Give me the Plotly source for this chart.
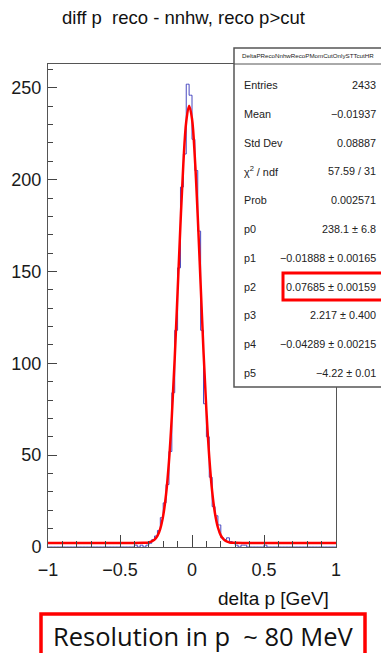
import numpy as np
import plotly.graph_objects as go

# ---------------- data ----------------
# histogram: centres of the non-empty bins (bin width 0.02 GeV) and their contents
bin_centers = [-0.39, -0.35, -0.31, -0.29, -0.27, -0.25, -0.23, -0.21, -0.19, -0.17,
               -0.15, -0.13, -0.11, -0.09, -0.07, -0.05, -0.03, -0.01, 0.01, 0.03,
               0.05, 0.07, 0.09, 0.11, 0.13, 0.15, 0.17, 0.19, 0.21, 0.23,
               0.25, 0.27, 0.29, 0.31, 0.35, 0.37, 0.51]
bin_counts = [1, 1, 1, 2, 4, 6, 9, 16, 24, 34,
              52, 84, 118, 152, 196, 214, 252, 246, 222, 205,
              172, 118, 78, 60, 38, 22, 17, 12, 5, 4,
              5, 3, 2, 1, 1, 1, 1]

# fit curve (red)
fit_x = [-1.0, -0.6, -0.4, -0.34, -0.30, -0.28, -0.26, -0.24, -0.22, -0.20, -0.18, -0.16,
         -0.14, -0.12, -0.10, -0.08, -0.06, -0.04, -0.02, 0.0, 0.02, 0.04, 0.06,
         0.08, 0.10, 0.12, 0.14, 0.16, 0.18, 0.20, 0.22, 0.24, 0.26, 0.30, 0.4, 0.6, 1.0]
fit_y = [2.2, 2.2, 2.2, 2.3, 2.5, 3.0, 4.0, 6.0, 10.0, 17.1, 28.8, 46.5,
         71.2, 102.7, 138.9, 176.0, 208.8, 231.6, 240.3, 233.2, 211.7, 179.8, 142.9,
         106.2, 74.3, 48.8, 30.3, 18.1, 10.6, 6.3, 4.1, 3.0, 2.5, 2.3, 2.2, 2.2, 2.2]

x_ticks = [-1, -0.5, 0, 0.5, 1]
y_ticks = [0, 50, 100, 150, 200, 250]

title_text = "diff p\u00a0\u00a0reco - nnhw, reco p>cut"
x_title = "delta p [GeV]"
stats_name = "DeltaPRecoNnhwRecoPMomCutOnlySTTcutHR"
stats_labels = ["Entries", "Mean", "Std Dev", "\u03c7<sup>2</sup> / ndf", "Prob",
                "p0", "p1", "p2", "p3", "p4", "p5"]
stats_values = ["2433", "\u22120.01937", "0.08887", "57.59 / 31", "0.002571",
                "238.1 \u00b1 6.8", "\u22120.01888 \u00b1 0.00165", "0.07685 \u00b1 0.00159",
                "2.217 \u00b1 0.400", "\u22120.04289 \u00b1 0.00215", "\u22124.22 \u00b1 0.01"]
note_text = "Resolution in p\u00a0\u00a0~ 80 MeV"

# ---------------- layout geometry ----------------
W, H = 381, 653
L, R, T, B = 48, 336, 64, 547


def px(x):
    return (x - L) / (R - L)


def py(y):
    return (B - y) / (B - T)


# full histogram arrays
all_centers = np.round(np.arange(-0.99, 1.0, 0.02), 2)
counts = np.zeros_like(all_centers)
for c, n in zip(bin_centers, bin_counts):
    counts[np.argmin(np.abs(all_centers - c))] = n
hx = np.concatenate([[-1.0], all_centers, [1.0]])
hy = np.concatenate([[counts[0]], counts, [counts[-1]]])

fig = go.Figure()
fig.add_trace(go.Scatter(x=hx, y=hy, mode="lines", line=dict(shape="hvh", color="#4848c0", width=1),
                         showlegend=False, hoverinfo="skip"))
fig.add_trace(go.Scatter(x=fit_x, y=fit_y, mode="lines", line=dict(shape="spline", color="#ff0000", width=2.5),
                         showlegend=False, hoverinfo="skip"))

axis_font = dict(family="Liberation Sans, Arial, sans-serif", size=18, color="#1a1a1a")
fig.update_xaxes(range=[-1, 1], tickvals=x_ticks, ticks="inside", ticklen=12, tickcolor="#444",
                 tickwidth=1, showline=True, linecolor="#555", linewidth=1, mirror=True,
                 showgrid=False, zeroline=False, tickfont=axis_font, ticklabelstandoff=6,
                 minor=dict(dtick=0.1, ticks="inside", ticklen=6, tickcolor="#444", showgrid=False))
fig.update_yaxes(range=[0, 263], tickvals=y_ticks, ticks="inside", ticklen=9, tickcolor="#444",
                 tickwidth=1, showline=True, linecolor="#555", linewidth=1, mirror=True,
                 showgrid=False, zeroline=False, tickfont=axis_font, ticklabelstandoff=2,
                 minor=dict(dtick=10, ticks="inside", ticklen=5, tickcolor="#444", showgrid=False))

shapes = []
annotations = []

# stats box
box_l, box_t, box_b = 234, 48, 387
box_r = 390
shapes.append(dict(type="rect", xref="paper", yref="paper", x0=px(box_l), x1=px(box_r),
                   y0=py(box_b), y1=py(box_t), line=dict(color="#555", width=1.5),
                   fillcolor="white", layer="above"))
shapes.append(dict(type="line", xref="paper", yref="paper", x0=px(box_l), x1=px(box_r),
                   y0=py(64), y1=py(64), line=dict(color="#555", width=1), layer="above"))
annotations.append(dict(xref="paper", yref="paper", x=px(308), y=py(56), text=stats_name,
                        showarrow=False, xanchor="center", yanchor="middle",
                        font=dict(family="Liberation Sans, Arial", size=6.2, color="#222")))
row_y0, row_dy = 85, 28.8
stat_font = dict(family="Liberation Sans, Arial", size=10.8, color="#222")
for i, (lab, val) in enumerate(zip(stats_labels, stats_values)):
    yy = row_y0 + i * row_dy
    annotations.append(dict(xref="paper", yref="paper", x=px(242), y=py(yy), text=lab,
                            showarrow=False, xanchor="left", yanchor="middle", font=stat_font))
    annotations.append(dict(xref="paper", yref="paper", x=px(378), y=py(yy), text=val,
                            showarrow=False, xanchor="right", yanchor="middle", font=stat_font))

# red highlight on p2
p2y = row_y0 + 7 * row_dy
shapes.append(dict(type="rect", xref="paper", yref="paper", x0=px(283), x1=px(386),
                   y0=py(p2y + 13.5), y1=py(p2y - 13.5), line=dict(color="#ff0000", width=3),
                   fillcolor="rgba(0,0,0,0)", layer="above"))

# title
annotations.append(dict(xref="paper", yref="paper", x=px(183), y=py(18), text=title_text,
                        showarrow=False, xanchor="center", yanchor="middle",
                        font=dict(family="Liberation Sans, Arial", size=18.5, color="#111")))
# x axis title
annotations.append(dict(xref="paper", yref="paper", x=px(331), y=py(598), text=x_title,
                        showarrow=False, xanchor="right", yanchor="middle",
                        font=dict(family="Liberation Sans, Arial", size=19, color="#111")))
# bottom note box
shapes.append(dict(type="rect", xref="paper", yref="paper", x0=px(41), x1=px(365),
                   y0=py(656), y1=py(614), line=dict(color="#ff0000", width=3.5),
                   fillcolor="white", layer="above"))
annotations.append(dict(xref="paper", yref="paper", x=px(203), y=py(636), text=note_text,
                        showarrow=False, xanchor="center", yanchor="middle",
                        font=dict(family="Open Sans, Noto Sans", size=25.5, color="#111")))

fig.update_layout(width=W, height=H, margin=dict(l=L, r=W - R, t=T, b=H - B),
                  paper_bgcolor="white", plot_bgcolor="white", shapes=shapes,
                  annotations=annotations, showlegend=False)

fig.write_html("out.html", config={"displayModeBar": False},
               post_script="document.body.style.margin='0';document.body.style.overflow='hidden';")
